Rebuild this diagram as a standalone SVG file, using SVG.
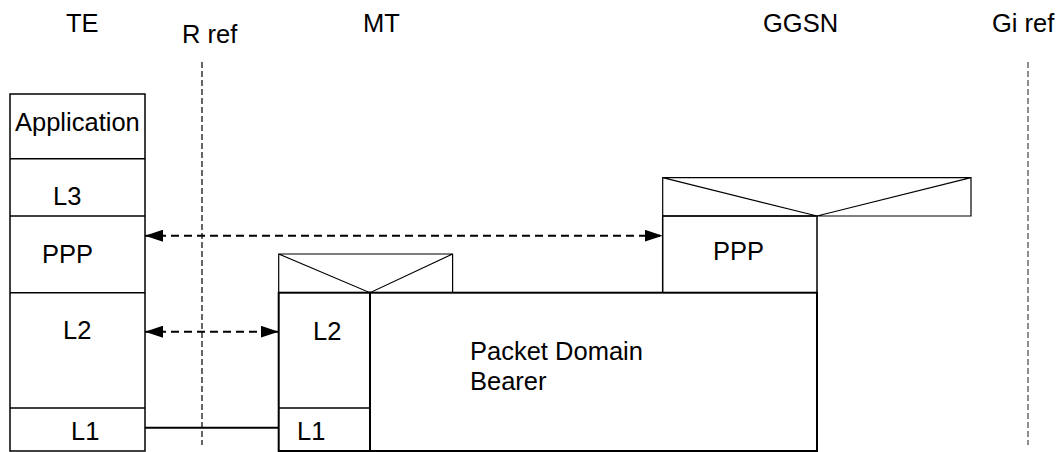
<svg xmlns="http://www.w3.org/2000/svg" width="1060" height="452" viewBox="0 0 1060 452">
<style>
  text { font-family: "Liberation Sans", Arial, sans-serif; font-size: 25.5px; fill: #000; }
  .box { fill: none; stroke: #000; stroke-width: 1.5; }
  .thick { fill: none; stroke: #000; stroke-width: 2; }
  .env { fill: none; stroke: #000; stroke-width: 1.2; }
  .ref { stroke: #000; stroke-width: 1.2; stroke-dasharray: 6 3; fill: none; }
  .ref2 { stroke: #444; stroke-width: 1.2; stroke-dasharray: 6 3; fill: none; }
  .darr { stroke: #000; stroke-width: 2; stroke-dasharray: 8 5; fill: none; }
</style>
<defs>
  <marker id="ah" viewBox="0 0 18 12" refX="18" refY="6" markerWidth="18" markerHeight="12" markerUnits="userSpaceOnUse" orient="auto-start-reverse">
    <path d="M0,0 L18,6 L0,12 Z" fill="#000"/>
  </marker>
</defs>

<g id="labels">
  <text x="66" y="32">TE</text>
  <text x="182" y="43">R ref</text>
  <text x="363" y="32">MT</text>
  <text x="763" y="32">GGSN</text>
  <text x="992" y="32">Gi ref</text>
</g>

<g id="ref-lines">
  <line class="ref" x1="202" y1="62" x2="202" y2="445"/>
  <line class="ref2" x1="1028" y1="62" x2="1028" y2="445"/>
</g>

<g id="te">
  <rect class="box" x="10" y="94" width="135" height="357"/>
  <line class="box" x1="10" y1="158.7" x2="145" y2="158.7"/>
  <line class="box" x1="10" y1="216" x2="145" y2="216"/>
  <line class="box" x1="10" y1="292.7" x2="145" y2="292.7"/>
  <line class="box" x1="10" y1="408" x2="145" y2="408"/>
  <text x="15" y="131">Application</text>
  <text x="53" y="205">L3</text>
  <text x="42" y="262.5">PPP</text>
  <text x="63" y="339">L2</text>
  <text x="71" y="440">L1</text>
</g>

<g id="mt">
  <path class="env" d="M278.7,292.7 V254 H452.6 V292.7 M278.7,254 L370,292.7 L452.6,254"/>
  <rect class="thick" x="278.7" y="292.7" width="91.3" height="158.3"/>
  <line class="box" x1="278.7" y1="408" x2="370" y2="408"/>
  <text x="313" y="340">L2</text>
  <text x="297" y="440">L1</text>
</g>

<g id="bearer">
  <rect class="thick" x="370" y="292.7" width="447" height="158.3"/>
  <text x="470" y="360">Packet Domain</text>
  <text x="470" y="390">Bearer</text>
</g>

<g id="ggsn">
  <path class="env" d="M662.7,216 V177.7 H971 V216 H662.7 M662.7,177.7 L817,216 L971,177.7"/>
  <path class="box" d="M662.7,292.7 V216 H817 V292.7"/>
  <text x="713" y="260">PPP</text>
</g>

<g id="connectors">
  <line class="darr" x1="145" y1="235.7" x2="662.7" y2="235.7" marker-start="url(#ah)" marker-end="url(#ah)"/>
  <line class="darr" x1="145" y1="331.7" x2="278.7" y2="331.7" marker-start="url(#ah)" marker-end="url(#ah)"/>
  <line class="thick" x1="145" y1="427.7" x2="278.7" y2="427.7"/>
</g>
</svg>
